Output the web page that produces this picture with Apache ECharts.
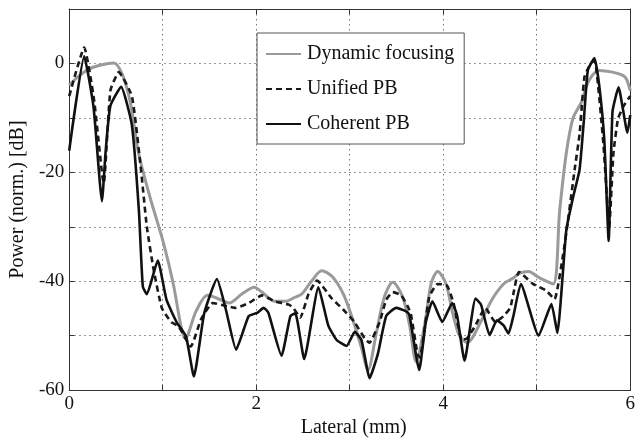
<!DOCTYPE html>
<html>
<head>
<meta charset="utf-8">
<script src="https://cdn.jsdelivr.net/npm/echarts@6/dist/echarts.min.js"></script>
<style>html,body{margin:0;padding:0;background:#fff}#c{width:638px;height:443px}</style>
</head>
<body>
<div id="c"></div>
<script>
// Lateral positions (mm) and power (dB) for each curve
const dynX = [0,0.09,0.21,0.336,0.477,0.565,0.654,0.742,0.866,1.007,1.113,1.2,1.24,1.357,1.48,1.62,1.71,1.85,1.98,2.06,2.2,2.31,2.42,2.49,2.595,2.70,2.81,2.93,3.02,3.125,3.195,3.28,3.37,3.46,3.566,3.64,3.71,3.80,3.87,3.94,4.03,4.10,4.17,4.255,4.40,4.52,4.645,4.75,4.82,4.91,5.03,5.175,5.245,5.316,5.387,5.475,5.56,5.67,5.81,5.92,5.96,6.0];
const dynY = [-4,-2.5,-1.05,-0.3,0.1,-1.9,-7.2,-16.5,-24.7,-32.9,-40.5,-48.7,-50.5,-45.5,-42.6,-43.4,-44,-42.3,-41.1,-42,-43.7,-43.7,-42.9,-42.3,-39.9,-38.1,-39.1,-42.3,-46.4,-52.2,-56.3,-49.9,-42.9,-40.2,-42.9,-48.1,-54.8,-48.1,-40.5,-38.2,-40.5,-45.8,-49.9,-51.3,-47.5,-43.4,-40.5,-39.4,-38.5,-38.2,-39.4,-40.5,-27.1,-16.5,-10.1,-7.2,-3.1,-1.3,-1.6,-2.2,-2.9,-5];

const uniX = [0,0.16,0.265,0.353,0.37,0.44,0.53,0.67,0.76,0.83,0.9,0.99,1.09,1.17,1.3,1.41,1.535,1.69,1.78,1.92,2.06,2.2,2.35,2.40,2.47,2.56,2.65,2.81,2.93,3.05,3.16,3.21,3.32,3.39,3.46,3.55,3.62,3.655,3.725,3.75,3.85,3.94,4.04,4.11,4.2,4.255,4.345,4.45,4.557,4.645,4.716,4.75,4.81,4.96,5.1,5.19,5.28,5.33,5.405,5.458,5.51,5.58,5.62,5.71,5.76,5.775,5.82,5.87,5.93,6.0];
const uniY = [-6,2.9,-6.6,-20.6,-22,-5,-1.6,-6,-18.3,-30,-37.6,-44.9,-47.5,-48.3,-52,-47,-44,-44.6,-44.9,-44,-42.6,-43.7,-44.3,-45,-46.7,-42.3,-39.9,-43.2,-45.2,-47.5,-50.5,-51.3,-47.5,-43.4,-42,-42.6,-44.6,-46.1,-53.4,-54,-42.9,-40.5,-40.8,-44,-50.8,-50.5,-48.1,-44.9,-47.5,-46.4,-44.9,-42.3,-38.3,-40.5,-41.7,-43.3,-35.3,-29.4,-19.5,-13,-2.5,0.1,0.4,-14.2,-27,-30,-16.5,-10.1,-7.8,-6];

const cohX = [0,0.16,0.26,0.35,0.39,0.44,0.555,0.67,0.745,0.787,0.83,0.947,1.04,1.148,1.25,1.333,1.445,1.58,1.675,1.785,1.87,1.92,2.01,2.08,2.13,2.27,2.365,2.418,2.513,2.665,2.77,2.86,2.966,3.054,3.125,3.213,3.3,3.39,3.496,3.60,3.637,3.743,3.814,3.884,3.99,4.096,4.149,4.228,4.345,4.404,4.496,4.574,4.645,4.698,4.75,4.83,5.02,5.157,5.22,5.316,5.387,5.458,5.5,5.546,5.617,5.67,5.723,5.769,5.81,5.875,5.97,6.0];
const cohY = [-16,1.3,-8,-25.3,-16,-7.8,-4.3,-11.3,-27,-41,-42.4,-36.2,-43.4,-47.5,-50.2,-57.5,-45.8,-39.6,-45.2,-52.6,-48.7,-46.4,-45.8,-44.9,-45.8,-53.7,-46.4,-45.9,-54.3,-41.1,-48.1,-50.8,-51.9,-49.3,-50.8,-57.8,-53.4,-46.4,-44.9,-45.5,-46.1,-56.3,-47.5,-43.7,-47.5,-44.0,-46.4,-54.6,-43.2,-44.3,-49.9,-47.2,-48.1,-49.6,-46.4,-40.5,-50.0,-44.2,-49.5,-30.6,-24.7,-19.5,-11.3,-1.3,1.0,-4.3,-14.2,-32.6,-8.9,-4.4,-12.7,-9.5];

const xTicks = [0,2,4,6];
const yTicks = [0,-20,-40,-60];
const seriesNames = ['Dynamic focusing','Unified PB','Coherent PB'];

function pairs(xs, ys){ return xs.map((x,i)=>[x, ys[i]]); }

const FONT = '"Liberation Serif","DejaVu Serif",serif';
const chart = echarts.init(document.getElementById('c'), null, {renderer:'canvas'});
const dotted = {show:true, lineStyle:{color:'#777', type:[1.5,3.5], width:1}};
chart.setOption({
  backgroundColor:'#fff',
  animation:false,
  grid:{left:67, right:3, top:9, bottom:35, containLabel:false},
  legend:{
    data:seriesNames,
    orient:'vertical', left:257, top:33,
    padding:[11,10,10,8], itemGap:15, itemWidth:35, itemHeight:14,
    backgroundColor:'#fff', borderColor:'#555', borderWidth:1, borderRadius:0,
    itemStyle:{opacity:0},
    textStyle:{fontFamily:FONT, fontSize:20, color:'#111', padding:[0,0,0,1]}
  },
  xAxis:[{
    type:'value', min:0, max:6, interval:1,
    name:'Lateral (mm)', nameLocation:'middle', nameGap:14,
    nameTextStyle:{fontFamily:FONT, fontSize:20, color:'#111', padding:[0,0,0,8]},
    axisLine:{show:true, onZero:false, lineStyle:{color:'#333', width:1}},
    axisTick:{show:true, inside:true, length:5, lineStyle:{color:'#333'}},
    axisLabel:{fontFamily:FONT, fontSize:19, color:'#111', margin:4,
      formatter:v=> xTicks.includes(v) ? String(v) : ''},
    splitLine:dotted
  },{
    type:'value', min:0, max:6, interval:1, position:'top',
    axisLine:{show:true, onZero:false, lineStyle:{color:'#333', width:1}},
    axisTick:{show:true, inside:true, length:5, lineStyle:{color:'#333'}},
    axisLabel:{show:false}, splitLine:{show:false}
  }],
  yAxis:[{
    type:'value', min:-60, max:10, interval:10,
    name:'Power (norm.) [dB]', nameLocation:'middle', nameGap:37,
    nameTextStyle:{fontFamily:FONT, fontSize:20, color:'#111'},
    axisLine:{show:true, onZero:false, lineStyle:{color:'#333', width:1}},
    axisTick:{show:true, inside:true, length:5, lineStyle:{color:'#333'}},
    axisLabel:{fontFamily:FONT, fontSize:19, color:'#111', margin:5,
      formatter:v=> yTicks.includes(v) ? String(v) : ''},
    splitLine:dotted
  },{
    type:'value', min:-60, max:10, interval:10, position:'right',
    axisLine:{show:true, onZero:false, lineStyle:{color:'#333', width:1}},
    axisTick:{show:true, inside:true, length:5, lineStyle:{color:'#333'}},
    axisLabel:{show:false}, splitLine:{show:false}
  }],
  series:[
    {name:seriesNames[0], type:'line', data:pairs(dynX,dynY), symbol:'none', smooth:0.3,
     lineStyle:{color:'#9a9a9a', width:3}, itemStyle:{color:'#9a9a9a'}, z:1},
    {name:seriesNames[1], type:'line', data:pairs(uniX,uniY), symbol:'none', smooth:0.15,
     lineStyle:{color:'#1a1a1a', width:2.6, type:[6,4]}, itemStyle:{color:'#1a1a1a'}, z:2},
    {name:seriesNames[2], type:'line', data:pairs(cohX,cohY), symbol:'none', smooth:0.15,
     lineStyle:{color:'#111', width:2.6}, itemStyle:{color:'#111'}, z:3}
  ]
});
</script>
</body>
</html>
